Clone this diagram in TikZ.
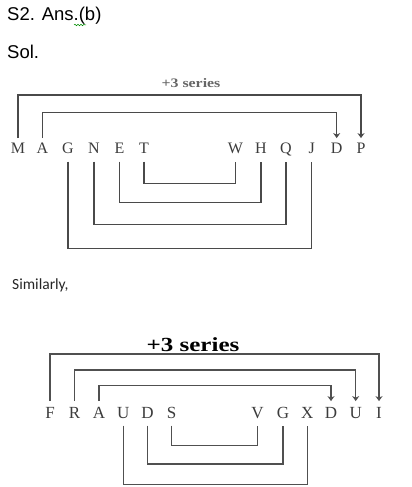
\documentclass[tikz,border=0pt]{standalone}
\usepackage{fontspec}
\usetikzlibrary{arrows.meta,decorations.pathmorphing}
\newfontfamily\arialf{Liberation Sans}
\newfontfamily\calibrif{Carlito}
\newfontfamily\timesf{Liberation Serif}
\definecolor{lnA}{HTML}{4A4A4A}
\definecolor{lnB}{HTML}{505050}
\definecolor{txA}{HTML}{3C3C3C}
\definecolor{hdA}{HTML}{666666}
\tikzset{
  lettA/.style={inner xsep=0pt, inner ysep=5pt, text height=10pt, text depth=3pt, anchor=base, text=txA, font=\timesf\fontsize{16}{16}\selectfont},
  lettB/.style={inner xsep=0pt, inner ysep=6pt, text height=11pt, text depth=1pt, anchor=base, text=txA, font=\timesf\fontsize{17}{17}\selectfont},
  linkA/.style={draw=lnA, line width=1.1pt},
  linkB/.style={draw=lnB, line width=1.2pt},
  arr/.style={-{Stealth[length=5pt,width=7pt,inset=1.5pt]}},
  plain/.style={inner sep=0pt, anchor=base west}
}
\begin{document}
\begin{tikzpicture}[x=1pt,y=-1pt]
\useasboundingbox (0,0) rectangle (412,487);
% header texts
\node[plain, font=\arialf\fontsize{18.5}{20}\selectfont] (ans) at (7,21) {S2. Ans.(b)};
\draw[green!55!black, line width=0.5pt, decorate, decoration={snake, amplitude=0.8pt, segment length=3pt}] (74,25) -- (86,25);
\node[plain, font=\arialf\fontsize{18.5}{20}\selectfont] (sol) at (7,58.3) {Sol.};
\node[inner sep=0pt, anchor=base, text=hdA, font=\timesf\bfseries\fontsize{13}{13}\selectfont] (hA) at (191,87.3) {\scalebox{1.22}[1]{+3 series}};

% top diagram letters
\node[lettA] (M) at (18,153.3) {M};
\node[lettA] (A) at (42.5,153.3) {A};
\node[lettA] (G) at (68,153.3) {G};
\node[lettA] (N) at (94,153.3) {N};
\node[lettA] (E) at (119.5,153.3) {E};
\node[lettA] (T) at (144,153.3) {T};
\node[lettA] (W) at (235.5,153.3) {W};
\node[lettA] (H) at (261,153.3) {H};
\node[lettA] (Q) at (286,153.3) {Q};
\node[lettA] (J) at (311.7,153.3) {J};
\node[lettA] (D1) at (336.7,153.3) {D};
\node[lettA] (P) at (361,153.3) {P};

\coordinate (u1) at (0,95);
\coordinate (u2) at (0,112.3);
\coordinate (d1) at (0,183.3);
\coordinate (d2) at (0,202.7);
\coordinate (d3) at (0,224.3);
\coordinate (d4) at (0,248.3);

\draw[linkA, arr] (M.north) -- (M.north |- u1) -| (P.north);
\draw[linkA, arr] (A.north) -- (A.north |- u2) -| (D1.north);
\draw[linkA] (T.south) -- (T.south |- d1) -| (W.south);
\draw[linkA] (E.south) -- (E.south |- d2) -| (H.south);
\draw[linkA] (N.south) -- (N.south |- d3) -| (Q.south);
\draw[linkA] (G.south) -- (G.south |- d4) -| (J.south);

% middle text
\node[plain, text=black!85, font=\calibrif\fontsize{15.5}{16}\selectfont] (sim) at (12,289) {Similarly,};
\node[inner sep=0pt, anchor=base, text=black, font=\timesf\bfseries\fontsize{20}{20}\selectfont] (hB) at (193,351.7) {\scalebox{1.25}[1]{+3 series}};

% bottom diagram letters
\node[lettB] (F) at (50,418.3) {F};
\node[lettB] (R) at (74.5,418.3) {R};
\node[lettB] (A2) at (99,418.3) {A};
\node[lettB] (U1) at (123.3,418.3) {U};
\node[lettB] (Dd) at (147.5,418.3) {D};
\node[lettB] (S) at (171.7,418.3) {S};
\node[lettB] (V) at (257.5,418.3) {V};
\node[lettB] (G2) at (283,418.3) {G};
\node[lettB] (X) at (307.3,418.3) {X};
\node[lettB] (D2) at (331,418.3) {D};
\node[lettB] (U2) at (355.7,418.3) {U};
\node[lettB] (I) at (379,418.3) {I};

\coordinate (v1) at (0,354);
\coordinate (v2) at (0,370);
\coordinate (v3) at (0,385.7);
\coordinate (e1) at (0,445.7);
\coordinate (e2) at (0,464);
\coordinate (e3) at (0,484.5);

\draw[linkB, arr] (F.north) -- (F.north |- v1) -| (I.north);
\draw[linkB, arr] (R.north) -- (R.north |- v2) -| (U2.north);
\draw[linkB, arr] (A2.north) -- (A2.north |- v3) -| (D2.north);
\draw[linkB] (S.south) -- (S.south |- e1) -| (V.south);
\draw[linkB] (Dd.south) -- (Dd.south |- e2) -| (G2.south);
\draw[linkB] (U1.south) -- (U1.south |- e3) -| (X.south);
\end{tikzpicture}
\end{document}
